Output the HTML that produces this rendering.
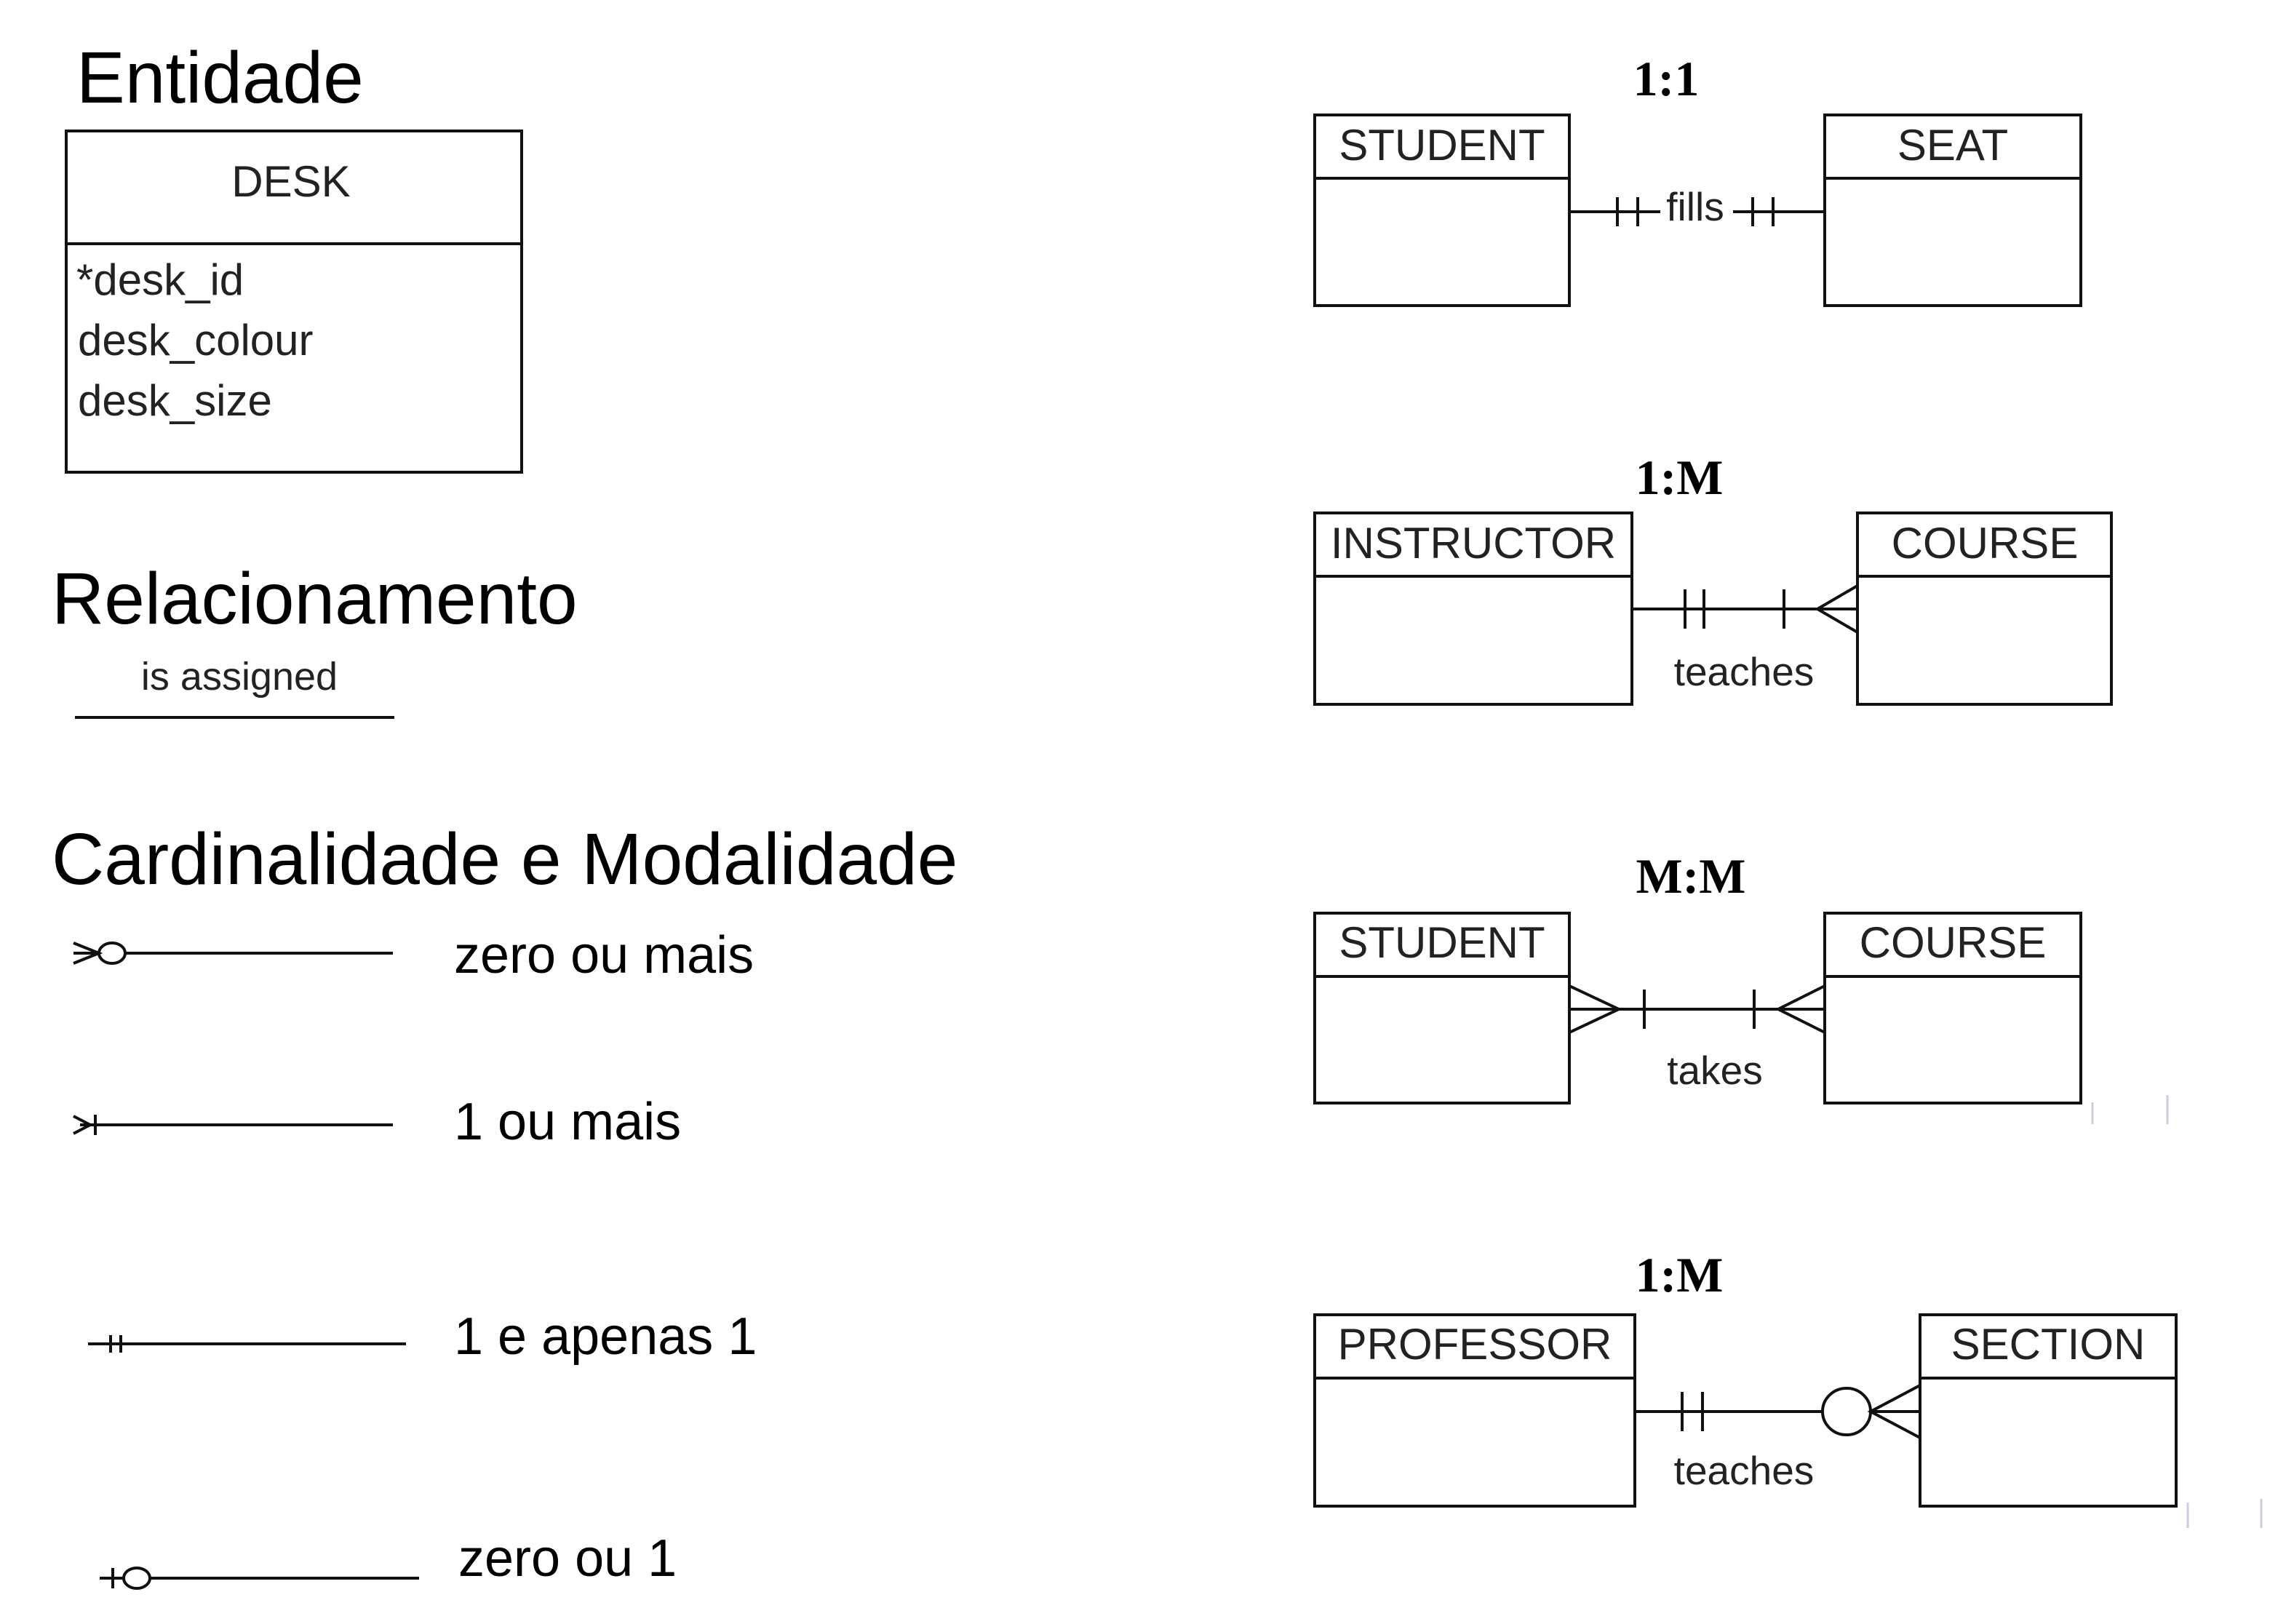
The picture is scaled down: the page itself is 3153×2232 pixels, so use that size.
<!DOCTYPE html>
<html><head><meta charset="utf-8"><style>
html,body{margin:0;padding:0;background:#fff}
svg{display:block}
.h{font-family:"Liberation Sans",sans-serif;font-size:100px;fill:#000}
.l{font-family:"Liberation Sans",sans-serif;font-size:72px;fill:#000}
.e{font-family:"Liberation Sans",sans-serif;font-size:60px;fill:#222}
.t{font-family:"Liberation Serif",serif;font-size:68px;font-weight:bold;fill:#000}
</style></head><body>
<svg width="3153" height="2232" viewBox="0 0 3153 2232" xmlns="http://www.w3.org/2000/svg">
<g stroke="#111" stroke-width="4" fill="none">
<rect x="91" y="180" width="626" height="469"/>
<line x1="91" y1="335" x2="717" y2="335"/>
<line x1="103" y1="986" x2="542" y2="986"/>
<line x1="172" y1="1310" x2="540" y2="1310"/>
<ellipse cx="154" cy="1310" rx="18" ry="14"/>
<path d="M101 1296 L136 1310 L101 1324 M101 1310 L136 1310"/>
<line x1="110" y1="1546" x2="540" y2="1546"/>
<line x1="131" y1="1532" x2="131" y2="1560"/>
<path d="M101 1534 L124 1546 L101 1558"/>
<line x1="121" y1="1847" x2="558" y2="1847"/>
<line x1="152" y1="1835" x2="152" y2="1859"/>
<line x1="166" y1="1835" x2="166" y2="1859"/>
<line x1="137" y1="2169" x2="170" y2="2169"/>
<line x1="206" y1="2169" x2="576" y2="2169"/>
<line x1="155" y1="2155" x2="155" y2="2183"/>
<ellipse cx="188" cy="2169" rx="18" ry="14"/>
</g>
<g transform="translate(-8,0)">
<g stroke="#111" stroke-width="4" fill="none">
<rect x="1815" y="158" width="350" height="262"/>
<line x1="1815" y1="245" x2="2165" y2="245"/>
<rect x="2516" y="158" width="352" height="262"/>
<line x1="2516" y1="245" x2="2868" y2="245"/>
<line x1="2165" y1="291" x2="2290" y2="291"/>
<line x1="2390" y1="291" x2="2516" y2="291"/>
<line x1="2231" y1="271" x2="2231" y2="311"/>
<line x1="2259" y1="271" x2="2259" y2="311"/>
<line x1="2417" y1="271" x2="2417" y2="311"/>
<line x1="2445" y1="271" x2="2445" y2="311"/>

<rect x="1815" y="705" width="436" height="263"/>
<line x1="1815" y1="792" x2="2251" y2="792"/>
<rect x="2561" y="705" width="349" height="263"/>
<line x1="2561" y1="792" x2="2910" y2="792"/>
<line x1="2251" y1="837" x2="2561" y2="837"/>
<line x1="2324" y1="810" x2="2324" y2="864"/>
<line x1="2350" y1="810" x2="2350" y2="864"/>
<line x1="2460" y1="810" x2="2460" y2="864"/>
<path d="M2561 805 L2506 837 L2561 869"/>

<rect x="1815" y="1255" width="350" height="261"/>
<line x1="1815" y1="1342" x2="2165" y2="1342"/>
<rect x="2516" y="1255" width="352" height="261"/>
<line x1="2516" y1="1342" x2="2868" y2="1342"/>
<line x1="2165" y1="1387" x2="2516" y2="1387"/>
<path d="M2165 1355 L2233 1387 L2165 1419"/>
<line x1="2268" y1="1360" x2="2268" y2="1414"/>
<line x1="2419" y1="1360" x2="2419" y2="1414"/>
<path d="M2516 1355 L2452 1387 L2516 1419"/>

<rect x="1815" y="1807" width="440" height="263"/>
<line x1="1815" y1="1894" x2="2255" y2="1894"/>
<rect x="2647" y="1807" width="352" height="263"/>
<line x1="2647" y1="1894" x2="2999" y2="1894"/>
<line x1="2255" y1="1940" x2="2513" y2="1940"/>
<line x1="2320" y1="1913" x2="2320" y2="1967"/>
<line x1="2348" y1="1913" x2="2348" y2="1967"/>
<ellipse cx="2546" cy="1940" rx="33" ry="32"/>
<path d="M2647 1904 L2579 1940 L2647 1976 M2579 1940 L2647 1940"/>
</g>
<g stroke="#ccd" stroke-width="3">
<line x1="2884" y1="1515" x2="2884" y2="1545"/>
<line x1="2987" y1="1505" x2="2987" y2="1545"/>
<line x1="3015" y1="2065" x2="3015" y2="2100"/>
<line x1="3116" y1="2060" x2="3116" y2="2100"/>
</g>
<text class="t" x="2298" y="131" text-anchor="middle">1:1</text>
<text class="e" x="1990" y="220" text-anchor="middle">STUDENT</text>
<text class="e" x="2692" y="220" text-anchor="middle">SEAT</text>
<text class="e" x="2338" y="303" text-anchor="middle" style="font-size:55px">fills</text>

<text class="t" x="2316" y="679" text-anchor="middle">1:M</text>
<text class="e" x="2033" y="767" text-anchor="middle">INSTRUCTOR</text>
<text class="e" x="2736" y="767" text-anchor="middle">COURSE</text>
<text class="e" x="2405" y="942" text-anchor="middle" style="font-size:55px">teaches</text>

<text class="t" x="2332" y="1227" text-anchor="middle">M:M</text>
<text class="e" x="1990" y="1316" text-anchor="middle">STUDENT</text>
<text class="e" x="2692" y="1316" text-anchor="middle">COURSE</text>
<text class="e" x="2365" y="1490" text-anchor="middle" style="font-size:55px">takes</text>

<text class="t" x="2316" y="1775" text-anchor="middle">1:M</text>
<text class="e" x="2035" y="1868" text-anchor="middle">PROFESSOR</text>
<text class="e" x="2823" y="1868" text-anchor="middle">SECTION</text>
<text class="e" x="2405" y="2040" text-anchor="middle" style="font-size:55px">teaches</text>
</g>

<text class="h" x="105" y="141">Entidade</text>
<text class="e" x="400" y="270" text-anchor="middle" fill="#333">DESK</text>
<text class="e" x="105" y="405">*desk_id</text>
<text class="e" x="107" y="488">desk_colour</text>
<text class="e" x="107" y="571">desk_size</text>
<text class="h" x="71" y="857">Relacionamento</text>
<text class="e" x="329" y="948" text-anchor="middle" style="font-size:54px">is assigned</text>
<text class="h" x="71" y="1215">Cardinalidade e Modalidade</text>
<text class="l" x="624" y="1337">zero ou mais</text>
<text class="l" x="624" y="1566">1 ou mais</text>
<text class="l" x="624" y="1861">1 e apenas 1</text>
<text class="l" x="630" y="2166">zero ou 1</text>
</svg>
</body></html>
